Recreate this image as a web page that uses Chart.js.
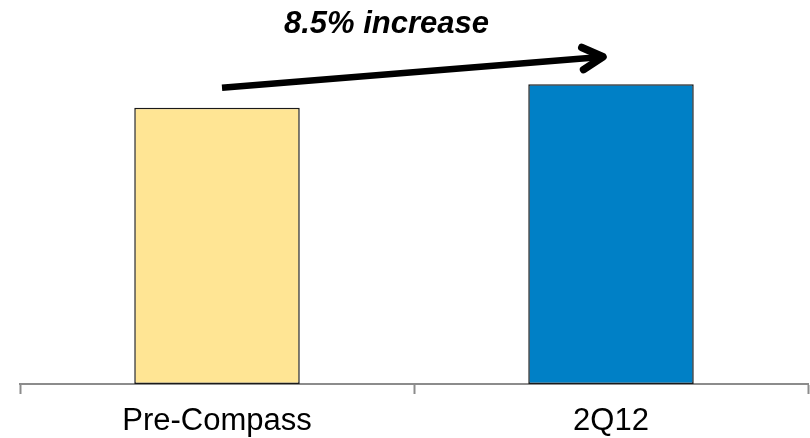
<!DOCTYPE html>
<html>
<head>
<meta charset="utf-8">
<script src="https://cdn.jsdelivr.net/npm/chart.js@4.4.1/dist/chart.umd.min.js"></script>
<style>
  html, body { margin: 0; padding: 0; background: #ffffff; }
  #wrap { width: 810px; height: 438px; position: relative; }
</style>
</head>
<body>
<div id="wrap"><canvas id="c" width="810" height="438"></canvas></div>
<script>
// Index values: Pre-Compass baseline vs. 2Q12
const categories = ['Pre-Compass', '2Q12'];
const values = [100, 108.5];
const barColors = ['#FFE594', '#0080C6'];
const changeLabel = '8.5% increase';

// Callout: bold italic label plus a rising arrow between the two bar tops
const arrowPlugin = {
  id: 'increaseArrow',
  afterDatasetsDraw(chart) {
    const { ctx, scales: { x, y } } = chart;
    const x0 = x.getPixelForValue(0) + 5;
    const y0 = y.getPixelForValue(values[0]) - 20;
    const x1 = x.getPixelForValue(1) - 6;
    const y1 = y.getPixelForValue(values[1]) - 27.5;

    ctx.save();
    ctx.strokeStyle = '#000';
    ctx.lineWidth = 6.5;
    ctx.lineCap = 'butt';
    ctx.beginPath();
    ctx.moveTo(x0, y0);
    ctx.lineTo(x1 - 4, y1 + 0.3);
    ctx.stroke();

    // open chevron head
    const ang = Math.atan2(y1 - y0, x1 - x0);
    const len = 25, spread = 0.46;
    ctx.lineWidth = 7.5;
    ctx.lineCap = 'round';
    ctx.lineJoin = 'round';
    ctx.beginPath();
    ctx.moveTo(x1 - len * Math.cos(ang - spread), y1 - len * Math.sin(ang - spread));
    ctx.lineTo(x1 - 2, y1);
    ctx.lineTo(x1 - len * Math.cos(ang + spread), y1 - len * Math.sin(ang + spread));
    ctx.stroke();

    ctx.fillStyle = '#000';
    ctx.font = 'italic bold 31px "Liberation Sans", Arial, sans-serif';
    ctx.textAlign = 'center';
    ctx.textBaseline = 'alphabetic';
    ctx.fillText(changeLabel, (x0 + x1) / 2 - 27, 33);
    ctx.restore();
  }
};

new Chart(document.getElementById('c'), {
  type: 'bar',
  data: {
    labels: categories,
    datasets: [{
      data: values,
      backgroundColor: barColors,
      borderColor: '#1a1a1a',
      borderWidth: 1.5,
      borderSkipped: false,
      categoryPercentage: 1.0,
      barPercentage: 0.42
    }]
  },
  options: {
    responsive: false,
    animation: false,
    devicePixelRatio: 1,
    // axis labels sit close to the lower edge of the canvas
    layout: { padding: { top: 0, left: 20, right: 2, bottom: -11 } },
    plugins: {
      legend: { display: false },
      tooltip: { enabled: false },
      title: { display: false }
    },
    scales: {
      x: {
        grid: {
          display: true,
          drawOnChartArea: false,
          drawTicks: true,
          tickLength: 10,
          tickWidth: 2,
          color: '#8c8c8c'
        },
        border: { display: true, color: '#8c8c8c', width: 2 },
        ticks: {
          color: '#000',
          padding: 12,
          font: { family: '"Liberation Sans", Arial, sans-serif', size: 31, lineHeight: 1 }
        }
      },
      y: {
        display: false,
        min: 0,
        max: 139
      }
    }
  },
  plugins: [arrowPlugin]
});
</script>
</body>
</html>
